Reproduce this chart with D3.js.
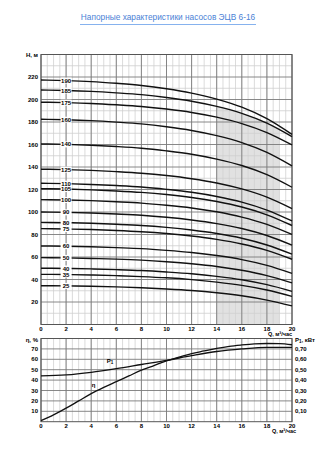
<!DOCTYPE html>
<html><head><meta charset="utf-8">
<script src="https://cdn.jsdelivr.net/npm/d3@7"></script>
<style>
html,body{margin:0;padding:0;background:#fff;}
text{font-family:"Liberation Sans",Arial,sans-serif;}
</style></head>
<body><svg id="c" width="335" height="450"></svg>
<script>
// ---------- data ----------
const flowQ = [0, 2, 4, 6, 8, 10, 12, 14, 16, 18, 20];
const curveLabels = ["190","185","175","160","140","125","110","105","100","90","80","75","60","50","40","35","25"];
const head190 = [217.3,216.8,215.9,214.4,212.5,209.6,205.7,200.4,193.2,183.0,169.0];
const head185 = [208.4,208.0,207.2,205.9,204.3,201.8,198.5,193.9,187.7,179.0,167.0];
const head175 = [197.6,197.2,196.5,195.3,193.8,191.5,188.5,184.3,178.6,170.6,159.6];
const head160 = [182.4,182.0,181.2,179.9,178.3,175.8,172.5,167.9,161.7,153.0,141.0];
const head140 = [160.5,160.1,159.3,158.2,156.7,154.3,151.3,147.0,141.3,133.2,122.0];
const head125 = [138.0,137.7,137.0,135.9,134.5,132.4,129.6,125.8,120.5,113.2,103.0];
const head110 = [125.5,125.2,124.5,123.5,122.2,120.1,117.5,113.8,108.8,101.7,92.0];
const head105 = [120.7,120.4,119.7,118.7,117.4,115.5,112.9,109.3,104.4,97.5,88.0];
const head100 = [111.0,110.7,110.1,109.1,107.9,106.0,103.6,100.2,95.5,89.0,80.0];
const head90  = [100.0,99.7,99.1,98.2,97.1,95.3,92.9,89.7,85.3,79.1,70.5];
const head80  = [90.8,90.5,90.0,89.1,88.0,86.3,84.0,80.9,76.7,70.7,62.5];
const head75  = [85.2,84.9,84.4,83.6,82.5,80.9,78.7,75.7,71.6,65.9,58.0];
const head60  = [69.8,69.6,69.1,68.3,67.4,65.9,64.0,61.3,57.7,52.6,45.5];
const head50  = [59.4,59.2,58.7,58.1,57.2,55.8,54.0,51.6,48.2,43.5,37.0];
const head40  = [50.0,49.8,49.4,48.8,48.0,46.7,45.1,42.8,39.8,35.4,29.5];
const head35  = [44.6,44.4,44.0,43.4,42.6,41.5,39.9,37.7,34.8,30.7,25.0];
const head25  = [34.5,34.3,34.0,33.4,32.7,31.6,30.2,28.2,25.5,21.7,16.5];
const headSeries = [head190,head185,head175,head160,head140,head125,head110,head105,head100,head90,head80,head75,head60,head50,head40,head35,head25];

const workRange = [14, 19];          // shaded working zone, m3/h
const effQ   = [0,1,2,3,4,5,6,7,8,9,10,11,12,13,14,15,16,17,18,19,20];
const effVal = [1,6.5,13,20,27,33,38.5,44,49.5,54,58.5,62,65.5,68,70.5,72.5,73.8,74.8,75.2,75,74];
const powQ   = [0,2,4,6,8,10,12,14,16,18,20];
const powVal = [0.44,0.45,0.475,0.51,0.55,0.59,0.635,0.675,0.70,0.715,0.715];

const qTicks = [0,2,4,6,8,10,12,14,16,18,20];
const hTicks = [20,40,60,80,100,120,140,160,180,200,220];
const effTicks = [10,20,30,40,50,60,70];
const powTicks = [0.1,0.2,0.3,0.4,0.5,0.6,0.7];

// ---------- layout ----------
const svg = d3.select("#c");
const X0 = 41, X1 = 292;
const x = d3.scaleLinear().domain([0,20]).range([X0,X1]);
const yH = d3.scaleLinear().domain([0,240]).range([324.5,54.5]);
const yE = d3.scaleLinear().domain([0,80]).range([421.7,338.5]);
const yP = d3.scaleLinear().domain([0,0.8]).range([421.7,338.5]);
const minorQ = d3.range(0,20.01,0.5);
const FONT = 6;
const INK = "#000";

// title
svg.append("text").attr("x",168).attr("y",20).attr("text-anchor","middle")
  .attr("font-size",8.3).attr("fill","#4b82d6").text("Напорные характеристики насосов ЭЦВ 6-16");
svg.append("line").attr("x1",80).attr("x2",256).attr("y1",24.5).attr("y2",24.5)
  .attr("stroke","#86b2ee").attr("stroke-width",1);

function grid(g, yScale, minorY, majorY, y0, y1){
  g.selectAll(null).data(minorQ).join("line")
    .attr("x1",d=>x(d)).attr("x2",d=>x(d)).attr("y1",y0).attr("y2",y1)
    .attr("stroke","#d2d2d2").attr("stroke-width",0.8);
  g.selectAll(null).data(minorY).join("line")
    .attr("x1",X0).attr("x2",X1).attr("y1",d=>yScale(d)).attr("y2",d=>yScale(d))
    .attr("stroke","#cfcfcf").attr("stroke-width",0.8);
  g.selectAll(null).data(qTicks).join("line")
    .attr("x1",d=>x(d)).attr("x2",d=>x(d)).attr("y1",y0).attr("y2",y1)
    .attr("stroke","#7a7a7a").attr("stroke-width",0.9);
  g.selectAll(null).data(majorY).join("line")
    .attr("x1",X0).attr("x2",X1).attr("y1",d=>yScale(d)).attr("y2",d=>yScale(d))
    .attr("stroke","#7a7a7a").attr("stroke-width",0.9);
  g.append("rect").attr("x",X0).attr("y",y1).attr("width",X1-X0).attr("height",y0-y1)
    .attr("fill","none").attr("stroke","#555").attr("stroke-width",1);
}

// ---------- main chart ----------
const main = svg.append("g");
const interp185 = q => { const i = d3.bisectLeft(flowQ,q); if(flowQ[i]===q) return head185[i];
  const t=(q-flowQ[i-1])/(flowQ[i]-flowQ[i-1]); return head185[i-1]+t*(head185[i]-head185[i-1]); };
const shadePts = [workRange[0], ...flowQ.filter(q=>q>workRange[0]&&q<workRange[1]), workRange[1]]
  .map(q=>[q, interp185(q)]);
const areaGen = d3.area().x(d=>x(d[0])).y0(yH(0)).y1(d=>yH(d[1])).curve(d3.curveMonotoneX);
main.append("path").datum(shadePts).attr("d",areaGen).attr("fill","#e1e1e1");

grid(main, yH, d3.range(10,240,20), d3.range(20,240,20), yH(0), yH(240));

const lineH = d3.line().x((d,i)=>x(flowQ[i])).y(d=>yH(d)).curve(d3.curveMonotoneX);
main.selectAll(null).data(headSeries).join("path")
  .attr("d",lineH).attr("fill","none").attr("stroke","#111").attr("stroke-width",1.4);

// curve labels at Q=2
const lab = main.selectAll(null).data(headSeries).join("g")
  .attr("transform",d=>`translate(${x(2)},${yH(d[1])})`);
lab.append("rect").attr("x",-5.5).attr("y",-3).attr("width",11).attr("height",6).attr("fill","#fff");
lab.append("text").attr("text-anchor","middle").attr("dy","0.35em").attr("font-size",FONT)
  .attr("font-weight","bold").attr("fill",INK).text((d,i)=>curveLabels[i]);

main.selectAll(null).data(hTicks).join("text")
  .attr("x",38).attr("y",d=>yH(d)).attr("dy","0.35em").attr("text-anchor","end")
  .attr("font-size",FONT).attr("font-weight","bold").attr("fill",INK).text(d=>d);
main.selectAll(null).data(qTicks).join("text")
  .attr("x",d=>x(d)).attr("y",331).attr("text-anchor","middle")
  .attr("font-size",FONT).attr("font-weight","bold").attr("fill",INK).text(d=>d);
main.append("text").attr("x",38).attr("y",56.5).attr("text-anchor","end")
  .attr("font-size",FONT).attr("font-weight","bold").attr("fill",INK).text("H, м");
main.append("text").attr("x",292).attr("y",336).attr("text-anchor","end")
  .attr("font-size",5.5).attr("font-weight","bold").attr("fill",INK).text("Q, м³/час");

// ---------- lower chart ----------
const low = svg.append("g");
grid(low, yE, [], d3.range(10,80,10), yE(0), yE(80));
const lineE = d3.line().x((d,i)=>x(effQ[i])).y(d=>yE(d)).curve(d3.curveMonotoneX);
const lineP = d3.line().x((d,i)=>x(powQ[i])).y(d=>yP(d)).curve(d3.curveMonotoneX);
low.append("path").datum(effVal).attr("d",lineE).attr("fill","none").attr("stroke","#111").attr("stroke-width",1.3);
low.append("path").datum(powVal).attr("d",lineP).attr("fill","none").attr("stroke","#111").attr("stroke-width",1.3);

low.selectAll(null).data(effTicks).join("text")
  .attr("x",38).attr("y",d=>yE(d)).attr("dy","0.35em").attr("text-anchor","end")
  .attr("font-size",FONT).attr("font-weight","bold").attr("fill",INK).text(d=>d);
low.selectAll(null).data(powTicks).join("text")
  .attr("x",295).attr("y",d=>yP(d)).attr("dy","0.35em").attr("text-anchor","start")
  .attr("font-size",FONT).attr("font-weight","bold").attr("fill",INK).text(d=>d3.format(".2f")(d).replace(".",","));
low.selectAll(null).data(qTicks).join("text")
  .attr("x",d=>x(d)).attr("y",428).attr("text-anchor","middle")
  .attr("font-size",FONT).attr("font-weight","bold").attr("fill",INK).text(d=>d);
low.append("text").attr("x",38).attr("y",342).attr("text-anchor","end")
  .attr("font-size",FONT).attr("font-weight","bold").attr("fill",INK).text("η, %");
const pl = low.append("text").attr("x",295).attr("y",342).attr("text-anchor","start")
  .attr("font-size",FONT).attr("font-weight","bold").attr("fill",INK);
pl.append("tspan").text("P");
pl.append("tspan").attr("font-size",4.5).attr("dy",1.2).text("1");
pl.append("tspan").attr("dy",-1.2).text(", кВт");
low.append("text").attr("x",296).attr("y",433).attr("text-anchor","end")
  .attr("font-size",5.5).attr("font-weight","bold").attr("fill",INK).text("Q, м³/час");
const p1 = low.append("text").attr("x",x(5.5)).attr("y",yP(0.565)).attr("text-anchor","middle")
  .attr("font-size",FONT).attr("font-weight","bold").attr("fill",INK);
p1.append("tspan").text("P");
p1.append("tspan").attr("font-size",4.5).attr("dy",1.2).text("1");
low.append("text").attr("x",x(4.2)).attr("y",yE(33)).attr("text-anchor","middle")
  .attr("font-size",FONT).attr("font-weight","bold").attr("fill",INK).text("η");
</script></body></html>
